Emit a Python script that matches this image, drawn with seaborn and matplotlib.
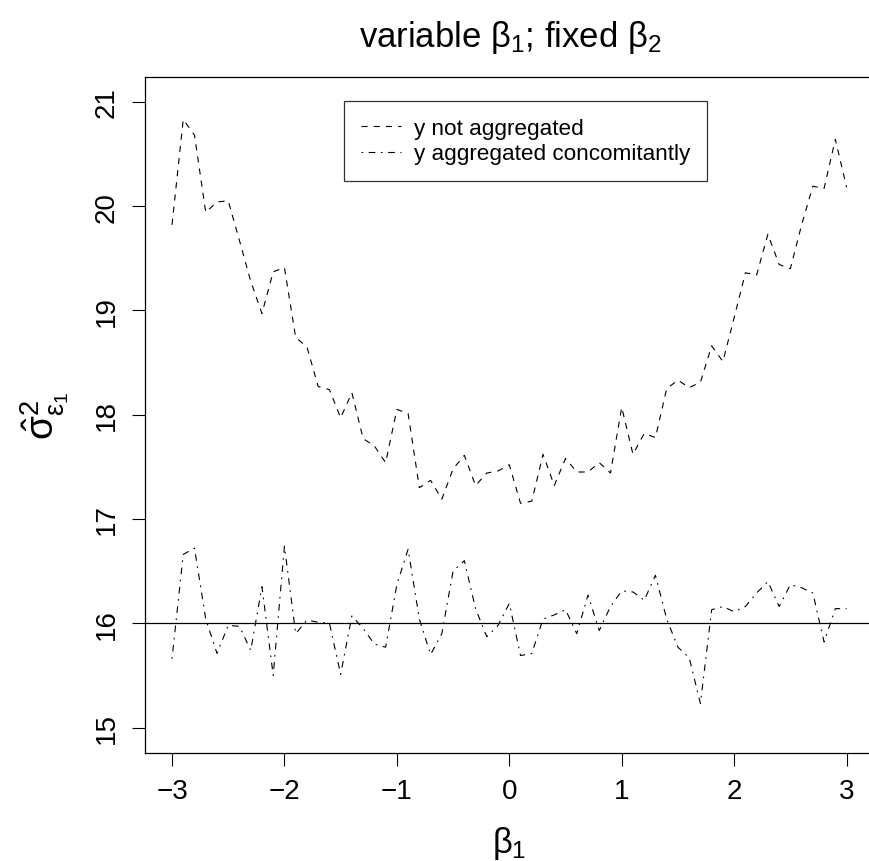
import numpy as np
import pandas as pd
import seaborn as sns
import matplotlib.pyplot as plt

sns.set_style("white")
plt.rcParams['font.family'] = ['Liberation Sans', 'DejaVu Sans']
plt.rcParams['mathtext.fontset'] = 'custom'
plt.rcParams['mathtext.rm'] = 'Liberation Sans'
plt.rcParams['mathtext.it'] = 'Liberation Sans'
plt.rcParams['mathtext.bf'] = 'Liberation Sans:bold'
plt.rcParams['text.color'] = 'black'
plt.rcParams['axes.labelcolor'] = 'black'
plt.rcParams['xtick.color'] = 'black'
plt.rcParams['ytick.color'] = 'black'

# beta1 grid
beta1 = np.round(np.arange(-3, 3.001, 0.1), 1)

# y not aggregated
not_agg = [19.82, 20.83, 20.68, 19.94, 20.04, 20.05, 19.67, 19.28, 18.97, 19.37,
           19.41, 18.74, 18.65, 18.27, 18.24, 17.97, 18.21, 17.77, 17.70, 17.54,
           18.05, 18.01, 17.30, 17.37, 17.19, 17.48, 17.61, 17.32, 17.44, 17.46,
           17.52, 17.15, 17.17, 17.62, 17.32, 17.58, 17.45, 17.45, 17.54, 17.44,
           18.07, 17.62, 17.82, 17.78, 18.25, 18.33, 18.26, 18.31, 18.66, 18.51,
           18.93, 19.36, 19.34, 19.73, 19.44, 19.40, 19.82, 20.19, 20.17, 20.64,
           20.18]

# y aggregated concomitantly
agg_conc = [15.66, 16.66, 16.72, 16.04, 15.71, 15.98, 15.97, 15.74, 16.35, 15.50,
            16.74, 15.90, 16.03, 16.01, 16.00, 15.51, 16.07, 15.95, 15.80, 15.77,
            16.37, 16.71, 16.04, 15.70, 15.90, 16.50, 16.60, 16.14, 15.87, 15.98,
            16.19, 15.69, 15.71, 16.04, 16.08, 16.13, 15.90, 16.27, 15.93, 16.16,
            16.31, 16.30, 16.22, 16.46, 16.04, 15.77, 15.67, 15.23, 16.13, 16.16,
            16.11, 16.16, 16.29, 16.40, 16.16, 16.37, 16.34, 16.29, 15.82, 16.14,
            16.14]

true_sigma2 = 16

xticks = [-3, -2, -1, 0, 1, 2, 3]
yticks = [15, 16, 17, 18, 19, 20, 21]

df = pd.DataFrame({'beta1': beta1, 'not_agg': not_agg, 'agg_conc': agg_conc})

fig = plt.figure(figsize=(8.7, 8.62), dpi=100)
ax = fig.add_axes([0.1667, 0.1258, 0.8374, 0.784])

sns.lineplot(data=df, x='beta1', y='not_agg', ax=ax, color='black', lw=0.8,
             label='y not aggregated')
sns.lineplot(data=df, x='beta1', y='agg_conc', ax=ax, color='black', lw=0.8,
             label='y aggregated concomitantly')
ax.lines[0].set_dashes((5.5, 5.5))
ax.lines[1].set_dashes((1.5, 5, 6, 5))
ax.axhline(true_sigma2, color='black', lw=0.9)

ax.set_xlim(-3.24, 3.24)
ax.set_ylim(14.76, 21.24)
ax.set_xticks(xticks)
ax.set_xticklabels(['\u22123', '\u22122', '\u22121', '0', '1', '2', '3'])
ax.set_yticks(yticks)
ax.set_yticklabels([str(v) for v in yticks], rotation=90, va='center')
ax.tick_params(axis='both', direction='out', length=9.4, width=0.8, color='black',
               labelsize=20, left=True, bottom=True)
ax.tick_params(axis='x', pad=9)
ax.tick_params(axis='y', pad=9)
for s in ax.spines.values():
    s.set_color('black')
    s.set_linewidth(0.9)

ax.set_xlabel(r'$\beta_1$', fontsize=25, labelpad=14)
ax.set_ylabel(r'$\hat{\sigma}^2_{\varepsilon_1}$', fontsize=28, labelpad=16)
fig.text(0.586, 0.957, r'variable $\beta_1$; fixed $\beta_2$', ha='center', va='center',
         fontsize=25)

leg = ax.legend(loc='upper left', bbox_to_anchor=(0.273, 0.964), fontsize=16.2,
                frameon=True, fancybox=False, edgecolor='black', handlelength=1.8,
                handletextpad=0.55, borderpad=0.75, borderaxespad=0,
                labelspacing=0.2)
leg.get_frame().set_linewidth(0.9)

fig.savefig('out.png', dpi=100)
